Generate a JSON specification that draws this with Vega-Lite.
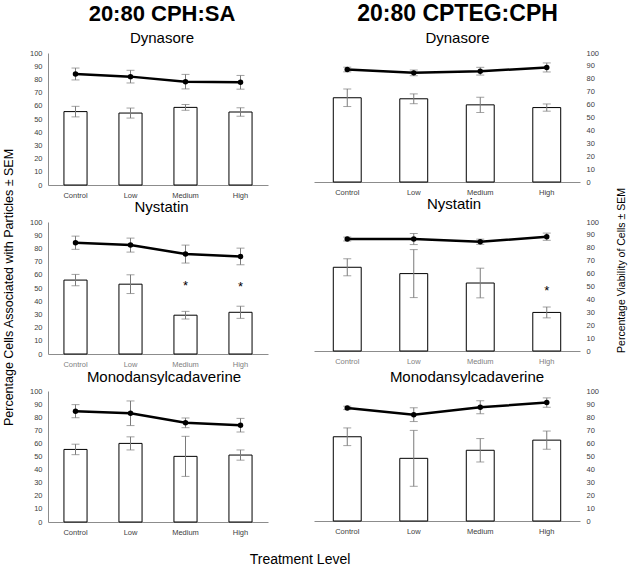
{
  "$schema": "https://vega.github.io/schema/vega-lite/v6.json",
  "autosize": {"type": "none"},
  "padding": {"left": 48, "top": 53, "right": 580, "bottom": 512},
  "background": "white",
  "config": {
    "font": "Liberation Sans",
    "view": {"stroke": null},
    "axis": {"grid": false},
    "title": {"color": "black", "fontWeight": "normal"}
  },
  "data": {"values": [
    {"formulation": "20:80 CPH:SA", "drug": "Dynasore", "level": "Control", "measure": "assoc", "value": 55.6, "sem": 4.0},
    {"formulation": "20:80 CPH:SA", "drug": "Dynasore", "level": "Low", "measure": "assoc", "value": 54.5, "sem": 3.8},
    {"formulation": "20:80 CPH:SA", "drug": "Dynasore", "level": "Medium", "measure": "assoc", "value": 58.8, "sem": 2.2},
    {"formulation": "20:80 CPH:SA", "drug": "Dynasore", "level": "High", "measure": "assoc", "value": 55.3, "sem": 3.2},
    {"formulation": "20:80 CPH:SA", "drug": "Dynasore", "level": "Control", "measure": "viab", "value": 84.1, "sem": 4.5},
    {"formulation": "20:80 CPH:SA", "drug": "Dynasore", "level": "Low", "measure": "viab", "value": 82.1, "sem": 4.8},
    {"formulation": "20:80 CPH:SA", "drug": "Dynasore", "level": "Medium", "measure": "viab", "value": 78.3, "sem": 5.5},
    {"formulation": "20:80 CPH:SA", "drug": "Dynasore", "level": "High", "measure": "viab", "value": 77.8, "sem": 5.2},
    {"formulation": "20:80 CPH:SA", "drug": "Nystatin", "level": "Control", "measure": "assoc", "value": 56.0, "sem": 4.3},
    {"formulation": "20:80 CPH:SA", "drug": "Nystatin", "level": "Low", "measure": "assoc", "value": 52.9, "sem": 7.1},
    {"formulation": "20:80 CPH:SA", "drug": "Nystatin", "level": "Medium", "measure": "assoc", "value": 29.4, "sem": 2.9},
    {"formulation": "20:80 CPH:SA", "drug": "Nystatin", "level": "High", "measure": "assoc", "value": 31.6, "sem": 4.6},
    {"formulation": "20:80 CPH:SA", "drug": "Nystatin", "level": "Control", "measure": "viab", "value": 84.3, "sem": 5.0},
    {"formulation": "20:80 CPH:SA", "drug": "Nystatin", "level": "Low", "measure": "viab", "value": 82.5, "sem": 5.3},
    {"formulation": "20:80 CPH:SA", "drug": "Nystatin", "level": "Medium", "measure": "viab", "value": 75.7, "sem": 6.8},
    {"formulation": "20:80 CPH:SA", "drug": "Nystatin", "level": "High", "measure": "viab", "value": 73.9, "sem": 6.3},
    {"formulation": "20:80 CPH:SA", "drug": "Nystatin", "level": "Medium", "measure": "sig", "value": 54},
    {"formulation": "20:80 CPH:SA", "drug": "Nystatin", "level": "High", "measure": "sig", "value": 53},
    {"formulation": "20:80 CPH:SA", "drug": "Monodansylcadaverine", "level": "Control", "measure": "assoc", "value": 55.4, "sem": 4.0},
    {"formulation": "20:80 CPH:SA", "drug": "Monodansylcadaverine", "level": "Low", "measure": "assoc", "value": 60.0, "sem": 5.0},
    {"formulation": "20:80 CPH:SA", "drug": "Monodansylcadaverine", "level": "Medium", "measure": "assoc", "value": 50.1, "sem": 15.3},
    {"formulation": "20:80 CPH:SA", "drug": "Monodansylcadaverine", "level": "High", "measure": "assoc", "value": 51.1, "sem": 3.9},
    {"formulation": "20:80 CPH:SA", "drug": "Monodansylcadaverine", "level": "Control", "measure": "viab", "value": 84.6, "sem": 5.0},
    {"formulation": "20:80 CPH:SA", "drug": "Monodansylcadaverine", "level": "Low", "measure": "viab", "value": 83.0, "sem": 9.4},
    {"formulation": "20:80 CPH:SA", "drug": "Monodansylcadaverine", "level": "Medium", "measure": "viab", "value": 75.7, "sem": 3.7},
    {"formulation": "20:80 CPH:SA", "drug": "Monodansylcadaverine", "level": "High", "measure": "viab", "value": 73.9, "sem": 5.2},
    {"formulation": "20:80 CPTEG:CPH", "drug": "Dynasore", "level": "Control", "measure": "assoc", "value": 65.3, "sem": 6.8},
    {"formulation": "20:80 CPTEG:CPH", "drug": "Dynasore", "level": "Low", "measure": "assoc", "value": 64.5, "sem": 3.8},
    {"formulation": "20:80 CPTEG:CPH", "drug": "Dynasore", "level": "Medium", "measure": "assoc", "value": 59.8, "sem": 5.9},
    {"formulation": "20:80 CPTEG:CPH", "drug": "Dynasore", "level": "High", "measure": "assoc", "value": 57.7, "sem": 2.8},
    {"formulation": "20:80 CPTEG:CPH", "drug": "Dynasore", "level": "Control", "measure": "viab", "value": 87.2, "sem": 1.8},
    {"formulation": "20:80 CPTEG:CPH", "drug": "Dynasore", "level": "Low", "measure": "viab", "value": 84.6, "sem": 2.2},
    {"formulation": "20:80 CPTEG:CPH", "drug": "Dynasore", "level": "Medium", "measure": "viab", "value": 85.9, "sem": 3.0},
    {"formulation": "20:80 CPTEG:CPH", "drug": "Dynasore", "level": "High", "measure": "viab", "value": 88.8, "sem": 3.5},
    {"formulation": "20:80 CPTEG:CPH", "drug": "Nystatin", "level": "Control", "measure": "assoc", "value": 64.9, "sem": 6.6},
    {"formulation": "20:80 CPTEG:CPH", "drug": "Nystatin", "level": "Low", "measure": "assoc", "value": 60.0, "sem": 18.6},
    {"formulation": "20:80 CPTEG:CPH", "drug": "Nystatin", "level": "Medium", "measure": "assoc", "value": 52.7, "sem": 11.5},
    {"formulation": "20:80 CPTEG:CPH", "drug": "Nystatin", "level": "High", "measure": "assoc", "value": 29.9, "sem": 4.2},
    {"formulation": "20:80 CPTEG:CPH", "drug": "Nystatin", "level": "Control", "measure": "viab", "value": 86.8, "sem": 1.5},
    {"formulation": "20:80 CPTEG:CPH", "drug": "Nystatin", "level": "Low", "measure": "viab", "value": 86.8, "sem": 4.3},
    {"formulation": "20:80 CPTEG:CPH", "drug": "Nystatin", "level": "Medium", "measure": "viab", "value": 84.7, "sem": 2.0},
    {"formulation": "20:80 CPTEG:CPH", "drug": "Nystatin", "level": "High", "measure": "viab", "value": 88.6, "sem": 2.8},
    {"formulation": "20:80 CPTEG:CPH", "drug": "Nystatin", "level": "High", "measure": "sig", "value": 48.8},
    {"formulation": "20:80 CPTEG:CPH", "drug": "Monodansylcadaverine", "level": "Control", "measure": "assoc", "value": 64.8, "sem": 6.8},
    {"formulation": "20:80 CPTEG:CPH", "drug": "Monodansylcadaverine", "level": "Low", "measure": "assoc", "value": 48.2, "sem": 21.5},
    {"formulation": "20:80 CPTEG:CPH", "drug": "Monodansylcadaverine", "level": "Medium", "measure": "assoc", "value": 54.4, "sem": 9.0},
    {"formulation": "20:80 CPTEG:CPH", "drug": "Monodansylcadaverine", "level": "High", "measure": "assoc", "value": 62.2, "sem": 7.0},
    {"formulation": "20:80 CPTEG:CPH", "drug": "Monodansylcadaverine", "level": "Control", "measure": "viab", "value": 87.0, "sem": 1.3},
    {"formulation": "20:80 CPTEG:CPH", "drug": "Monodansylcadaverine", "level": "Low", "measure": "viab", "value": 81.8, "sem": 5.3},
    {"formulation": "20:80 CPTEG:CPH", "drug": "Monodansylcadaverine", "level": "Medium", "measure": "viab", "value": 87.5, "sem": 5.0},
    {"formulation": "20:80 CPTEG:CPH", "drug": "Monodansylcadaverine", "level": "High", "measure": "viab", "value": 91.1, "sem": 3.6}
  ]},
  "bounds": "flush",
  "columns": 2,
  "spacing": {"row": 37, "column": 46},
  "concat": [
    {
      "width": 220, "height": 132,
      "title": {"text": "20:80 CPH:SA", "subtitle": "Dynasore", "fontSize": 22, "fontWeight": "bold", "subtitleFontSize": 15, "subtitleColor": "black", "subtitlePadding": 5, "offset": 2, "dx": 4, "anchor": "middle"},
      "transform": [{"filter": "datum.formulation === '20:80 CPH:SA' && datum.drug === 'Dynasore'"}],
      "encoding": {
        "x": {"field": "level", "type": "nominal", "sort": ["Control", "Low", "Medium", "High"], "scale": {"paddingInner": 0, "paddingOuter": 0}, "axis": {"title": null, "labelAngle": 0, "ticks": false, "domainColor": "#8c8c8c", "labelFontSize": 7.5, "labelColor": "#404040", "labelPadding": 6}},
        "y": {"field": "value", "type": "quantitative", "scale": {"domain": [0, 100], "nice": false}, "axis": {"title": "Percentage Cells Associated with Particles ± SEM", "titleFontSize": 12.5, "titleFontWeight": "normal", "titleColor": "black", "titleX": -35.5, "titleY": 234, "titleAngle": 270, "titleBaseline": "alphabetic", "titleAlign": "center", "values": [0, 10, 20, 30, 40, 50, 60, 70, 80, 90, 100], "ticks": false, "domainColor": "#8c8c8c", "labelFontSize": 7.5, "labelColor": "#404040", "labelPadding": 6}}
      },
      "layer": [
        {"transform": [{"filter": "datum.measure === 'assoc'"}], "mark": {"type": "bar", "fill": "white", "stroke": "black", "strokeWidth": 1, "width": {"band": 0.42}}},
        {"transform": [{"filter": "datum.measure === 'assoc'"}], "mark": {"type": "errorbar", "ticks": true, "size": 8, "thickness": 1, "color": "#7a7a7a"}, "encoding": {"yError": {"field": "sem"}}},
        {"transform": [{"filter": "datum.measure === 'viab'"}], "mark": {"type": "errorbar", "ticks": true, "size": 8, "thickness": 1, "color": "#7a7a7a"}, "encoding": {"yError": {"field": "sem"}}},
        {"transform": [{"filter": "datum.measure === 'viab'"}], "mark": {"type": "line", "color": "black", "strokeWidth": 2.5}},
        {"transform": [{"filter": "datum.measure === 'viab'"}], "mark": {"type": "point", "filled": true, "color": "black", "size": 30, "opacity": 1}}
      ]
    },
    {
      "width": 266, "height": 129,
      "title": {"text": "20:80 CPTEG:CPH", "subtitle": "Dynasore", "fontSize": 23, "fontWeight": "bold", "subtitleFontSize": 15, "subtitleColor": "black", "subtitlePadding": 5.5, "offset": 3, "dx": 10.5, "anchor": "middle"},
      "transform": [{"filter": "datum.formulation === '20:80 CPTEG:CPH' && datum.drug === 'Dynasore'"}],
      "encoding": {
        "x": {"field": "level", "type": "nominal", "sort": ["Control", "Low", "Medium", "High"], "scale": {"paddingInner": 0, "paddingOuter": 0}, "axis": {"title": null, "labelAngle": 0, "ticks": false, "domainColor": "#8c8c8c", "labelFontSize": 7.5, "labelColor": "#404040", "labelPadding": 6}},
        "y": {"field": "value", "type": "quantitative", "scale": {"domain": [0, 100], "nice": false}, "axis": {"orient": "right", "title": "Percentage Viability of Cells ± SEM", "titleFontSize": 10.5, "titleFontWeight": "normal", "titleColor": "black", "titleX": 44.7, "titleY": 217, "titleAngle": 270, "titleBaseline": "alphabetic", "titleAlign": "center", "values": [0, 10, 20, 30, 40, 50, 60, 70, 80, 90, 100], "ticks": false, "domain": false, "labelFontSize": 7.5, "labelColor": "#404040", "labelPadding": 6}}
      },
      "layer": [
        {"transform": [{"filter": "datum.measure === 'assoc'"}], "mark": {"type": "bar", "fill": "white", "stroke": "black", "strokeWidth": 1, "width": {"band": 0.42}}},
        {"transform": [{"filter": "datum.measure === 'assoc'"}], "mark": {"type": "errorbar", "ticks": true, "size": 8, "thickness": 1, "color": "#7a7a7a"}, "encoding": {"yError": {"field": "sem"}}},
        {"transform": [{"filter": "datum.measure === 'viab'"}], "mark": {"type": "errorbar", "ticks": true, "size": 8, "thickness": 1, "color": "#7a7a7a"}, "encoding": {"yError": {"field": "sem"}}},
        {"transform": [{"filter": "datum.measure === 'viab'"}], "mark": {"type": "line", "color": "black", "strokeWidth": 2.5}},
        {"transform": [{"filter": "datum.measure === 'viab'"}], "mark": {"type": "point", "filled": true, "color": "black", "size": 30, "opacity": 1}}
      ]
    },
    {
      "width": 220, "height": 132,
      "title": {"text": "Nystatin", "fontSize": 15, "offset": 3, "dx": 3.5, "anchor": "middle"},
      "transform": [{"filter": "datum.formulation === '20:80 CPH:SA' && datum.drug === 'Nystatin'"}],
      "encoding": {
        "x": {"field": "level", "type": "nominal", "sort": ["Control", "Low", "Medium", "High"], "scale": {"paddingInner": 0, "paddingOuter": 0}, "axis": {"title": null, "labelAngle": 0, "ticks": false, "domainColor": "#8c8c8c", "labelFontSize": 7.5, "labelColor": "#808080", "labelPadding": 6}},
        "y": {"field": "value", "type": "quantitative", "scale": {"domain": [0, 100], "nice": false}, "axis": {"title": null, "values": [0, 10, 20, 30, 40, 50, 60, 70, 80, 90, 100], "ticks": false, "domainColor": "#8c8c8c", "labelFontSize": 7.5, "labelColor": "#404040", "labelPadding": 6}}
      },
      "layer": [
        {"transform": [{"filter": "datum.measure === 'assoc'"}], "mark": {"type": "bar", "fill": "white", "stroke": "black", "strokeWidth": 1, "width": {"band": 0.42}}},
        {"transform": [{"filter": "datum.measure === 'assoc'"}], "mark": {"type": "errorbar", "ticks": true, "size": 8, "thickness": 1, "color": "#7a7a7a"}, "encoding": {"yError": {"field": "sem"}}},
        {"transform": [{"filter": "datum.measure === 'viab'"}], "mark": {"type": "errorbar", "ticks": true, "size": 8, "thickness": 1, "color": "#7a7a7a"}, "encoding": {"yError": {"field": "sem"}}},
        {"transform": [{"filter": "datum.measure === 'viab'"}], "mark": {"type": "line", "color": "black", "strokeWidth": 2.5}},
        {"transform": [{"filter": "datum.measure === 'viab'"}], "mark": {"type": "point", "filled": true, "color": "black", "size": 30, "opacity": 1}},
        {"transform": [{"filter": "datum.measure === 'sig'"}], "mark": {"type": "text", "text": "*", "fontSize": 13, "baseline": "middle", "dy": 3, "color": "black"}}
      ]
    },
    {
      "width": 266, "height": 129,
      "title": {"text": "Nystatin", "fontSize": 15, "offset": 6, "dx": 7, "anchor": "middle"},
      "transform": [{"filter": "datum.formulation === '20:80 CPTEG:CPH' && datum.drug === 'Nystatin'"}],
      "encoding": {
        "x": {"field": "level", "type": "nominal", "sort": ["Control", "Low", "Medium", "High"], "scale": {"paddingInner": 0, "paddingOuter": 0}, "axis": {"title": null, "labelAngle": 0, "ticks": false, "domainColor": "#8c8c8c", "labelFontSize": 7.5, "labelColor": "#808080", "labelPadding": 6}},
        "y": {"field": "value", "type": "quantitative", "scale": {"domain": [0, 100], "nice": false}, "axis": {"orient": "right", "title": null, "values": [0, 10, 20, 30, 40, 50, 60, 70, 80, 90, 100], "ticks": false, "domain": false, "labelFontSize": 7.5, "labelColor": "#404040", "labelPadding": 6}}
      },
      "layer": [
        {"transform": [{"filter": "datum.measure === 'assoc'"}], "mark": {"type": "bar", "fill": "white", "stroke": "black", "strokeWidth": 1, "width": {"band": 0.42}}},
        {"transform": [{"filter": "datum.measure === 'assoc'"}], "mark": {"type": "errorbar", "ticks": true, "size": 8, "thickness": 1, "color": "#7a7a7a"}, "encoding": {"yError": {"field": "sem"}}},
        {"transform": [{"filter": "datum.measure === 'viab'"}], "mark": {"type": "errorbar", "ticks": true, "size": 8, "thickness": 1, "color": "#7a7a7a"}, "encoding": {"yError": {"field": "sem"}}},
        {"transform": [{"filter": "datum.measure === 'viab'"}], "mark": {"type": "line", "color": "black", "strokeWidth": 2.5}},
        {"transform": [{"filter": "datum.measure === 'viab'"}], "mark": {"type": "point", "filled": true, "color": "black", "size": 30, "opacity": 1}},
        {"transform": [{"filter": "datum.measure === 'sig'"}], "mark": {"type": "text", "text": "*", "fontSize": 13, "baseline": "middle", "dy": 3, "color": "black"}}
      ]
    },
    {
      "width": 220, "height": 131,
      "title": {"text": "Monodansylcadaverine", "fontSize": 15, "offset": 2, "dx": 6, "anchor": "middle"},
      "transform": [{"filter": "datum.formulation === '20:80 CPH:SA' && datum.drug === 'Monodansylcadaverine'"}],
      "encoding": {
        "x": {"field": "level", "type": "nominal", "sort": ["Control", "Low", "Medium", "High"], "scale": {"paddingInner": 0, "paddingOuter": 0}, "axis": {"title": "Treatment Level", "titleFontSize": 14, "titleFontWeight": "normal", "titleColor": "black", "titleX": 251.5, "titleY": 41, "titleBaseline": "alphabetic", "titleAlign": "center", "labelAngle": 0, "ticks": false, "domainColor": "#8c8c8c", "labelFontSize": 7.5, "labelColor": "#404040", "labelPadding": 6}},
        "y": {"field": "value", "type": "quantitative", "scale": {"domain": [0, 100], "nice": false}, "axis": {"title": null, "values": [0, 10, 20, 30, 40, 50, 60, 70, 80, 90, 100], "ticks": false, "domainColor": "#8c8c8c", "labelFontSize": 7.5, "labelColor": "#404040", "labelPadding": 6}}
      },
      "layer": [
        {"transform": [{"filter": "datum.measure === 'assoc'"}], "mark": {"type": "bar", "fill": "white", "stroke": "black", "strokeWidth": 1, "width": {"band": 0.42}}},
        {"transform": [{"filter": "datum.measure === 'assoc'"}], "mark": {"type": "errorbar", "ticks": true, "size": 8, "thickness": 1, "color": "#7a7a7a"}, "encoding": {"yError": {"field": "sem"}}},
        {"transform": [{"filter": "datum.measure === 'viab'"}], "mark": {"type": "errorbar", "ticks": true, "size": 8, "thickness": 1, "color": "#7a7a7a"}, "encoding": {"yError": {"field": "sem"}}},
        {"transform": [{"filter": "datum.measure === 'viab'"}], "mark": {"type": "line", "color": "black", "strokeWidth": 2.5}},
        {"transform": [{"filter": "datum.measure === 'viab'"}], "mark": {"type": "point", "filled": true, "color": "black", "size": 30, "opacity": 1}}
      ]
    },
    {
      "width": 266, "height": 130,
      "title": {"text": "Monodansylcadaverine", "fontSize": 15, "offset": 2, "dx": 20, "anchor": "middle"},
      "transform": [{"filter": "datum.formulation === '20:80 CPTEG:CPH' && datum.drug === 'Monodansylcadaverine'"}],
      "encoding": {
        "x": {"field": "level", "type": "nominal", "sort": ["Control", "Low", "Medium", "High"], "scale": {"paddingInner": 0, "paddingOuter": 0}, "axis": {"title": null, "labelAngle": 0, "ticks": false, "domainColor": "#8c8c8c", "labelFontSize": 7.5, "labelColor": "#404040", "labelPadding": 6}},
        "y": {"field": "value", "type": "quantitative", "scale": {"domain": [0, 100], "nice": false}, "axis": {"orient": "right", "title": null, "values": [0, 10, 20, 30, 40, 50, 60, 70, 80, 90, 100], "ticks": false, "domain": false, "labelFontSize": 7.5, "labelColor": "#404040", "labelPadding": 6}}
      },
      "layer": [
        {"transform": [{"filter": "datum.measure === 'assoc'"}], "mark": {"type": "bar", "fill": "white", "stroke": "black", "strokeWidth": 1, "width": {"band": 0.42}}},
        {"transform": [{"filter": "datum.measure === 'assoc'"}], "mark": {"type": "errorbar", "ticks": true, "size": 8, "thickness": 1, "color": "#7a7a7a"}, "encoding": {"yError": {"field": "sem"}}},
        {"transform": [{"filter": "datum.measure === 'viab'"}], "mark": {"type": "errorbar", "ticks": true, "size": 8, "thickness": 1, "color": "#7a7a7a"}, "encoding": {"yError": {"field": "sem"}}},
        {"transform": [{"filter": "datum.measure === 'viab'"}], "mark": {"type": "line", "color": "black", "strokeWidth": 2.5}},
        {"transform": [{"filter": "datum.measure === 'viab'"}], "mark": {"type": "point", "filled": true, "color": "black", "size": 30, "opacity": 1}}
      ]
    }
  ]
}
